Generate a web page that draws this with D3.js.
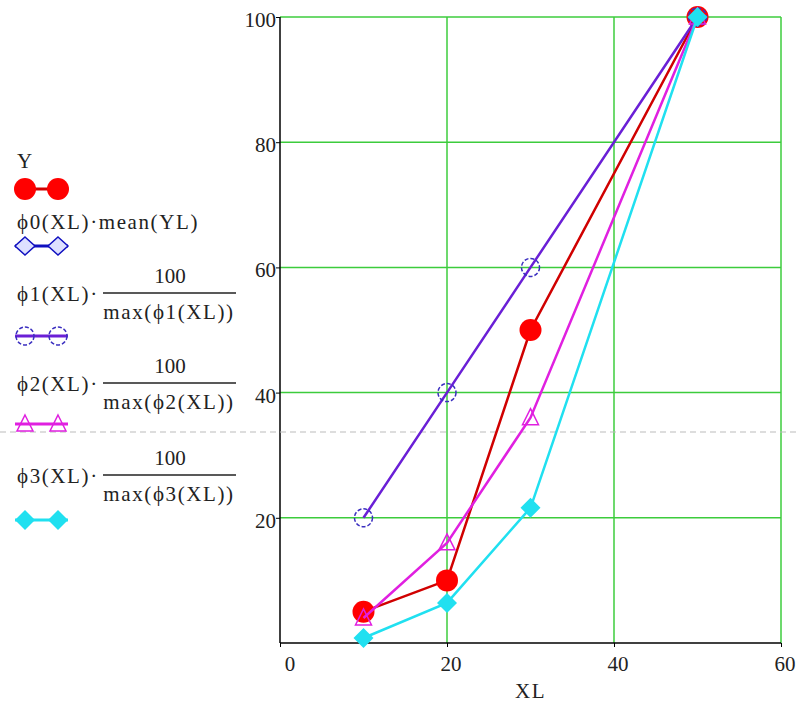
<!DOCTYPE html>
<html>
<head>
<meta charset="utf-8">
<script src="https://cdn.jsdelivr.net/npm/d3@7"></script>
<style>
  body { margin: 0; background: #fff; }
  text { font-family: "Liberation Serif", "Times New Roman", "DejaVu Serif", serif; fill: #222; }
  .leg { font-size: 21px; letter-spacing: 1.6px; }
  .num { font-size: 21px; }
</style>
</head>
<body>
<svg width="800" height="710"></svg>
<script>
const width = 800;
const height = 710;

// data
const xl = [10, 20, 30, 50];
const yVals = [5, 10, 50, 100];
const phi0Vals = [];              // not visible in the picture
const phi1Vals = [20, 40, 60, 100];
const phi2Vals = [4, 16, 36, 100];
const phi3Vals = [0.8, 6.4, 21.6, 100];
const xTicks = [0, 20, 40, 60];
const yTicks = [20, 40, 60, 80, 100];

const plotLeft = 280, plotRight = 781, plotTop = 17, plotBottom = 643;
const green = "#3ccc3c";

let svg = d3.select("svg").attr("width", width).attr("height", height);

let scX = d3.scaleLinear().domain([0, 60]).range([plotLeft, plotRight]);
let scY = d3.scaleLinear().domain([0, 100]).range([plotBottom, plotTop]);

// grid
svg.append("g").selectAll("line").data(yTicks).enter().append("line")
    .attr("x1", plotLeft).attr("x2", plotRight)
    .attr("y1", d => scY(d)).attr("y2", d => scY(d))
    .attr("stroke", green).attr("stroke-width", 1.5);
svg.append("g").selectAll("line").data(xTicks.filter(d => d > 0)).enter().append("line")
    .attr("x1", d => scX(d)).attr("x2", d => scX(d))
    .attr("y1", plotTop).attr("y2", plotBottom)
    .attr("stroke", green).attr("stroke-width", 1.5);

// axes
let axisX = d3.axisBottom(scX).tickValues(xTicks).tickSize(4).tickFormat("");
let axisY = d3.axisLeft(scY).tickValues(yTicks).tickSize(4).tickFormat("");
svg.append("g").attr("transform", `translate(0, ${plotBottom})`).call(axisX)
    .call(g => g.select(".domain").attr("stroke", "#000").attr("stroke-width", 1.5).attr("d", `M${plotLeft},0H${plotRight}`));
svg.append("g").attr("transform", `translate(${plotLeft}, 0)`).call(axisY)
    .call(g => g.select(".domain").attr("stroke", "#000").attr("stroke-width", 1.5).attr("d", `M0,${plotTop}V${plotBottom}`));

svg.append("g").selectAll("text").data(xTicks).enter().append("text")
    .attr("class", "num")
    .attr("x", d => scX(d) + (d === 0 ? 10 : 4))
    .attr("y", 671)
    .attr("text-anchor", "middle")
    .text(d => d);
svg.append("g").selectAll("text").data(yTicks).enter().append("text")
    .attr("class", "num")
    .attr("x", plotLeft - 4)
    .attr("y", d => scY(d) + 10)
    .attr("text-anchor", "end")
    .text(d => d);

svg.append("text").attr("class", "leg").attr("x", (plotLeft + plotRight) / 2).attr("y", 698)
    .attr("text-anchor", "middle").text("XL");

// page break line
svg.append("line").attr("x1", 0).attr("x2", width).attr("y1", 432).attr("y2", 432)
    .attr("stroke", "#bbb").attr("stroke-width", 1).attr("stroke-dasharray", "6,4");

// marker shapes
function marker(g, type, color) {
    if (type === "dot") {
        g.append("circle").attr("r", 11).attr("fill", "#ff0000");
    } else if (type === "circle") {
        g.append("circle").attr("r", 9).attr("fill", "none")
            .attr("stroke", "#3b2fc0").attr("stroke-width", 1.5).attr("stroke-dasharray", "4,2");
    } else if (type === "triangle") {
        g.append("path").attr("d", "M0,-9L8,7L-8,7Z").attr("fill", "none")
            .attr("stroke", color).attr("stroke-width", 1.5);
    } else if (type === "diamond") {
        g.append("path").attr("d", "M0,-9L10,0L0,9L-10,0Z").attr("fill", "#dde0ff")
            .attr("stroke", color).attr("stroke-width", 1.5);
    } else if (type === "fdiamond") {
        g.append("path").attr("d", "M0,-10L10,0L0,10L-10,0Z").attr("fill", color);
    }
}

function createSeries(values, lineColor, markColor, type) {
    let pts = xl.map((x, i) => [x, values[i]]).filter(d => d[1] !== undefined);
    let line = d3.line().x(d => scX(d[0])).y(d => scY(d[1]));
    svg.append("path").datum(pts)
        .attr("d", line)
        .attr("fill", "none")
        .attr("stroke", lineColor)
        .attr("stroke-width", 2.5);
    svg.append("g").selectAll("g").data(pts).enter().append("g")
        .attr("transform", d => `translate(${scX(d[0])}, ${scY(d[1])})`)
        .each(function () { marker(d3.select(this), type, markColor); });
}

createSeries(yVals, "#d00000", "#ff0000", "dot");
createSeries(phi0Vals, "#1010c0", "#1010c0", "diamond");
createSeries(phi1Vals, "#6a1fd6", "#3b2fc0", "circle");
createSeries(phi2Vals, "#e020e0", "#e020e0", "triangle");
createSeries(phi3Vals, "#20e0f0", "#20e0f0", "fdiamond");

// legend
function legendMarks(y, lineColor, markColor, type) {
    svg.append("line").attr("x1", 15).attr("x2", 68).attr("y1", y).attr("y2", y)
        .attr("stroke", lineColor).attr("stroke-width", 3);
    [25, 58].forEach(x => {
        let g = svg.append("g").attr("transform", `translate(${x}, ${y})`);
        marker(g, type, markColor);
    });
}

function legendFraction(lineY, name) {
    svg.append("text").attr("class", "leg").attr("x", 17).attr("y", lineY + 8).text(name + "(XL)\u00b7");
    svg.append("text").attr("class", "num").attr("x", 170).attr("y", lineY - 10).attr("text-anchor", "middle").text("100");
    svg.append("line").attr("x1", 103).attr("x2", 236).attr("y1", lineY).attr("y2", lineY)
        .attr("stroke", "#222").attr("stroke-width", 1.3);
    svg.append("text").attr("class", "leg").attr("x", 169).attr("y", lineY + 26).attr("text-anchor", "middle").text("max(" + name + "(XL))");
}

svg.append("text").attr("class", "leg").attr("x", 17).attr("y", 168).text("Y");
legendMarks(189, "#d00000", "#ff0000", "dot");

svg.append("text").attr("class", "leg").attr("x", 17).attr("y", 229).text("\u03d50(XL)\u00b7mean(YL)");
legendMarks(246, "#1010c0", "#1010c0", "diamond");

legendFraction(293, "\u03d51");
legendMarks(336, "#6a1fd6", "#3b2fc0", "circle");

legendFraction(383, "\u03d52");
legendMarks(424, "#e020e0", "#e020e0", "triangle");

legendFraction(475, "\u03d53");
legendMarks(520, "#20e0f0", "#20e0f0", "fdiamond");
</script>
</body>
</html>
